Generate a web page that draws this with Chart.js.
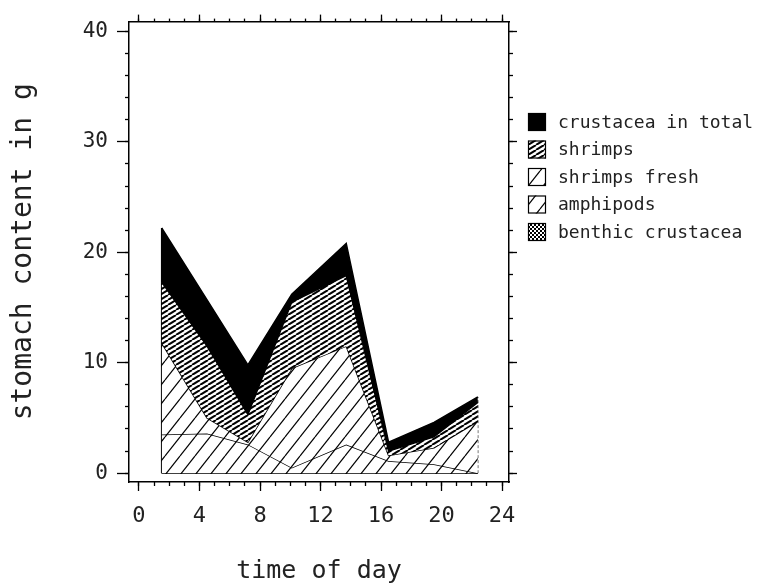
<!DOCTYPE html>
<html>
<head>
<meta charset="utf-8">
<script src="https://cdn.jsdelivr.net/npm/chart.js@4"></script>
<style>
  html, body { margin: 0; padding: 0; background: #fff; }
</style>
</head>
<body>
<canvas id="chart" width="760" height="588"></canvas>
<script>
// sampling times (hour of day) and stacked layer tops (g)
const hours = [1.5, 4.5, 7.2, 10.1, 13.7, 16.5, 19.5, 22.4];
const crustaceaTotal = [22.2, 15.7, 9.8, 16.2, 20.8, 2.8, 4.6, 6.9];
const shrimps = [17.3, 11.5, 5.3, 15.5, 17.9, 2.0, 3.3, 6.4];
const shrimpsFresh = [11.8, 5.0, 2.8, 9.5, 11.5, 1.6, 2.3, 4.7];
const amphipods = [3.5, 3.6, 2.6, 0.5, 2.6, 1.1, 0.8, 0];
const benthic = [0, 0, 0, 0, 0, 0, 0, 0];

const labels = ["crustacea in total", "shrimps", "shrimps fresh", "amphipods", "benthic crustacea"];

const xMajorTicks = [0, 4, 8, 12, 16, 20, 24];
const xMinorTicks = [0, 1, 2, 3, 4, 5, 6, 7, 8, 9, 10, 11, 12, 13, 14, 15, 16, 17, 18, 19, 20, 21, 22, 23, 24];
const yMajorTicks = [0, 10, 20, 30, 40];
const yMinorTicks = [0, 2, 4, 6, 8, 10, 12, 14, 16, 18, 20, 22, 24, 26, 28, 30, 32, 34, 36, 38, 40];

const MONO = "'DejaVu Sans Mono', 'Liberation Mono', monospace";

function hatch(w, h, lw) {
  const c = document.createElement("canvas");
  c.width = w;
  c.height = h;
  const g = c.getContext("2d");
  g.fillStyle = "#fff";
  g.fillRect(0, 0, w, h);
  g.strokeStyle = "#000";
  g.lineWidth = lw;
  for (const k of [-1, 0, 1]) {
    g.beginPath();
    g.moveTo(k * w, h);
    g.lineTo(k * w + w, 0);
    g.stroke();
  }
  return g.createPattern(c, "repeat");
}

function checker() {
  const c = document.createElement("canvas");
  c.width = 4;
  c.height = 4;
  const g = c.getContext("2d");
  g.fillStyle = "#000";
  g.fillRect(0, 0, 4, 4);
  g.fillStyle = "#fff";
  g.fillRect(0, 0, 2, 2);
  g.fillRect(2, 2, 2, 2);
  return g.createPattern(c, "repeat");
}

const fills = ["#000", hatch(8, 5, 2), hatch(15, 19, 1.2), hatch(15, 19, 1.2), checker()];

const toPoints = (ys) => ys.map((y, i) => ({ x: hours[i], y: y }));

const series = [crustaceaTotal, shrimps, shrimpsFresh, amphipods, benthic];
const datasets = series.map((ys, i) => ({
  label: labels[i],
  data: toPoints(ys),
  backgroundColor: fills[i],
  borderColor: "#000",
  borderWidth: 1.5,
  pointRadius: 0,
  tension: 0,
  fill: i < series.length - 1 ? "+1" : "origin",
}));

// left and right outline of the stacked area
const last = hours.length - 1;
datasets.push({
  label: "edge",
  data: [{ x: hours[0], y: 0 }, { x: hours[0], y: crustaceaTotal[0] }],
  borderColor: "#000", borderWidth: 1.5, pointRadius: 0, fill: false, edge: true,
});
datasets.push({
  label: "edge",
  data: [{ x: hours[last], y: 0 }, { x: hours[last], y: crustaceaTotal[last] }],
  borderColor: "#000", borderWidth: 1, borderDash: [3, 2], pointRadius: 0, fill: false, edge: true,
});

const X_MIN = -0.66, X_MAX = 24.46;
const Y_MIN = -0.8, Y_MAX = 40.89;

function scale(axis, position, tickValues, tickLength, extra) {
  const horizontal = position === "top" || position === "bottom";
  return Object.assign({
    type: "linear",
    axis: axis,
    position: position,
    min: horizontal ? X_MIN : Y_MIN,
    max: horizontal ? X_MAX : Y_MAX,
    afterBuildTicks: (s) => { s.ticks = tickValues.map((v) => ({ value: v })); },
    ticks: { display: false, autoSkip: false, maxRotation: 0 },
    grid: {
      display: true, drawOnChartArea: false, drawTicks: true,
      tickLength: tickLength, tickWidth: 1.3, tickColor: "#000",
    },
    border: { display: false },
  }, extra);
}

const scales = {
  xMinor: scale("x", "bottom", xMinorTicks, 4, { weight: -1, afterFit: (s) => { s.height = 0; } }),
  x2Minor: scale("x", "top", xMinorTicks, 3, { weight: -1, afterFit: (s) => { s.height = 0; } }),
  yMinor: scale("y", "left", yMinorTicks, 4, { weight: -1, afterFit: (s) => { s.width = 0; } }),
  y2Minor: scale("y", "right", yMinorTicks, 4, { weight: -1, afterFit: (s) => { s.width = 0; } }),
  x: scale("x", "bottom", xMajorTicks, 9, {
    ticks: { display: true, autoSkip: false, maxRotation: 0, color: "#222", padding: 12, font: { family: MONO, size: 22 } },
    border: { display: true, color: "#000", width: 1.5 },
    title: { display: true, text: "time of day", color: "#222", font: { family: MONO, size: 25 }, padding: { bottom: 2 } },
    afterFit: (s) => { s.height = 106; },
  }),
  x2: scale("x", "top", xMajorTicks, 7, {
    border: { display: true, color: "#000", width: 1.5 },
    afterFit: (s) => { s.height = 14; },
  }),
  y: scale("y", "left", yMajorTicks, 12, {
    ticks: { display: true, autoSkip: false, color: "#222", padding: 9, font: { family: MONO, size: 21 } },
    border: { display: true, color: "#000", width: 1.5 },
    title: { display: true, text: "stomach content in g", color: "#222", font: { family: MONO, size: 28 }, padding: { top: 7 } },
    afterFit: (s) => { s.width = 129; },
  }),
  y2: scale("y", "right", yMajorTicks, 8, {
    border: { display: true, color: "#000", width: 1.5 },
    afterFit: (s) => { s.width = 251; },
  }),
};

const boxLegend = {
  id: "boxLegend",
  afterDraw(chart) {
    const ctx = chart.ctx;
    const items = chart.data.datasets.filter((d) => !d.edge);
    ctx.save();
    ctx.font = "18px " + MONO;
    ctx.textBaseline = "middle";
    items.forEach((d, i) => {
      const y = 122 + i * 27.5;
      ctx.fillStyle = d.backgroundColor;
      ctx.fillRect(528, y - 9, 18, 18);
      ctx.strokeStyle = "#000";
      ctx.lineWidth = 1.2;
      ctx.strokeRect(528.5, y - 8.5, 17, 17);
      ctx.fillStyle = "#222";
      ctx.fillText(d.label, 558, y + 1);
    });
    ctx.restore();
  },
};

new Chart(document.getElementById("chart"), {
  type: "line",
  data: { datasets: datasets },
  options: {
    responsive: false,
    animation: false,
    devicePixelRatio: 1,
    layout: { padding: 0 },
    plugins: { legend: { display: false }, tooltip: { enabled: false } },
    scales: scales,
  },
  plugins: [boxLegend],
});
</script>
</body>
</html>
